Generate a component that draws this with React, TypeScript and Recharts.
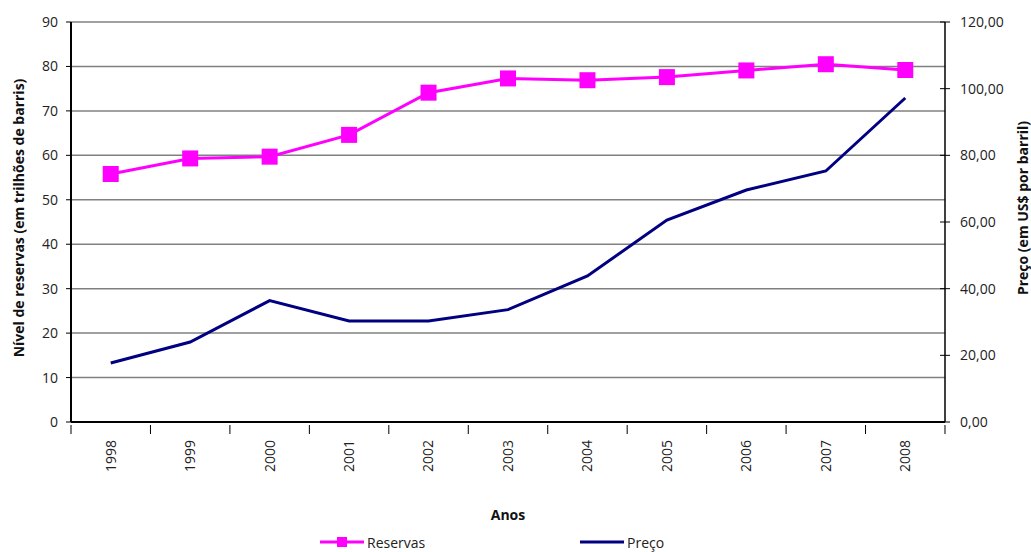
import { LineChart, Line, XAxis, YAxis, CartesianGrid, Legend } from 'recharts';

const anos = ['1998', '1999', '2000', '2001', '2002', '2003', '2004', '2005', '2006', '2007', '2008'];
const reservas = [55.8, 59.3, 59.7, 64.6, 74.1, 77.3, 76.9, 77.6, 79.1, 80.5, 79.2];
const preco = [17.7, 24.0, 36.4, 30.3, 30.3, 33.7, 43.8, 60.6, 69.6, 75.3, 97.2];
const leftTicks = [0, 10, 20, 30, 40, 50, 60, 70, 80, 90];
const rightTicks = [0, 20, 40, 60, 80, 100, 120];

const data = anos.map((ano, i) => ({ ano, reservas: reservas[i], preco: preco[i] }));

const W = 1031;
const H = 552;
const LEFT_W = 71;
const RIGHT_W = 86;
const BAND = (W - LEFT_W - RIGHT_W) / anos.length;
const FONT = '"Open Sans", sans-serif';
const TXT = '#222';

const fmtPreco = (v: number) => v.toFixed(2).replace('.', ',');

// square marker like the Excel original
const SquareDot = (props: any) => {
  const { cx, cy } = props;
  if (cx == null || cy == null) return null;
  return <rect x={cx - 8} y={cy - 8} width={16} height={16} fill="#ff00ff" />;
};

const YearTick = (props: any) => {
  const { x, y, payload, index } = props;
  const last = index === anos.length - 1;
  return (
    <g transform={`translate(${x},${y})`}>
      <line x1={-BAND / 2} x2={-BAND / 2} y1={-5} y2={4} stroke="#000" />
      {last && <line x1={BAND / 2} x2={BAND / 2} y1={-5} y2={4} stroke="#000" />}
      <text
        transform="rotate(-90)"
        x={-10}
        y={0}
        dy="0.35em"
        textAnchor="end"
        fontSize={14}
        fontFamily={FONT}
        fill={TXT}
      >
        {payload.value}
      </text>
    </g>
  );
};

const RightTick = (props: any) => {
  const { x, y, payload } = props;
  return (
    <g>
      <line x1={W - RIGHT_W - 5} x2={W - RIGHT_W + 5} y1={y} y2={y} stroke="#000" />
      <text x={x + 7} y={y} dy="0.35em" textAnchor="start" fontSize={14} fontFamily={FONT} fill={TXT}>
        {fmtPreco(payload.value)}
      </text>
    </g>
  );
};

const LegendBox = () => (
  <div style={{ position: 'relative', height: 20, fontFamily: FONT, fontSize: 14, color: TXT }}>
    <div style={{ position: 'absolute', left: 318, top: 0, display: 'flex', alignItems: 'center' }}>
      <svg width={48} height={20}>
        <line x1={2} x2={46} y1={10} y2={10} stroke="#ff00ff" strokeWidth={3} />
        <rect x={19} y={5} width={10} height={10} fill="#ff00ff" />
      </svg>
      <span style={{ marginLeft: 1 }}>Reservas</span>
    </div>
    <div style={{ position: 'absolute', left: 578, top: 0, display: 'flex', alignItems: 'center' }}>
      <svg width={48} height={20}>
        <line x1={2} x2={46} y1={10} y2={10} stroke="#000080" strokeWidth={3} />
      </svg>
      <span style={{ marginLeft: 1 }}>Preço</span>
    </div>
  </div>
);

export default function App() {
  return (
    <div style={{ position: 'absolute', left: 0, top: 0, width: W, height: H, background: '#fff' }}>
      <LineChart width={W} height={H} data={data} margin={{ top: 22, right: 0, left: 0, bottom: 0 }}>
        <CartesianGrid yAxisId="left" vertical={false} stroke="#808080" strokeWidth={1.5} />
        <XAxis
          dataKey="ano"
          height={110}
          padding={{ left: BAND / 2, right: BAND / 2 }}
          tick={<YearTick />}
          tickLine={false}
          axisLine={{ stroke: '#000', strokeWidth: 2 }}
          interval={0}
          label={{
            value: 'Anos',
            position: 'insideBottom',
            offset: 12,
            fontSize: 14,
            fontWeight: 'bold',
            fontFamily: FONT,
            fill: '#111',
          }}
        />
        <YAxis
          yAxisId="left"
          width={LEFT_W}
          domain={[0, 90]}
          ticks={leftTicks}
          interval={0}
          tickSize={5}
          tickMargin={8}
          tickLine={{ stroke: '#000' }}
          axisLine={{ stroke: '#000', strokeWidth: 2 }}
          tick={{ fontSize: 14, fontFamily: FONT, fill: TXT }}
          label={{
            content: (p: any) => {
              const vb = p.viewBox;
              const cx = 18;
              const cy = vb.y + vb.height / 2 - 4;
              return (
                <text
                  x={cx}
                  y={cy}
                  transform={`rotate(-90 ${cx} ${cy})`}
                  textAnchor="middle"
                  dominantBaseline="central"
                  fontSize={14}
                  fontWeight="bold"
                  fontFamily={FONT}
                  fill="#111"
                >
                  Nível de reservas (em trilhões de barris)
                </text>
              );
            },
          }}
        />
        <YAxis
          yAxisId="right"
          orientation="right"
          width={RIGHT_W}
          domain={[0, 120]}
          ticks={rightTicks}
          interval={0}
          tickLine={false}
          axisLine={{ stroke: '#000', strokeWidth: 1.5 }}
          tick={<RightTick />}
          label={{
            content: (p: any) => {
              const vb = p.viewBox;
              const cx = 1022;
              const cy = vb.y + vb.height / 2 - 14;
              return (
                <text
                  x={cx}
                  y={cy}
                  transform={`rotate(-90 ${cx} ${cy})`}
                  textAnchor="middle"
                  dominantBaseline="central"
                  fontSize={14}
                  fontWeight="bold"
                  fontFamily={FONT}
                  fill="#111"
                >
                  Preço (em US$ por barril)
                </text>
              );
            },
          }}
        />
        <Legend verticalAlign="bottom" height={20} content={<LegendBox />} />
        <Line
          yAxisId="left"
          type="linear"
          dataKey="reservas"
          name="Reservas"
          stroke="#ff00ff"
          strokeWidth={3}
          dot={<SquareDot />}
          activeDot={false}
          isAnimationActive={false}
        />
        <Line
          yAxisId="right"
          type="linear"
          dataKey="preco"
          name="Preço"
          stroke="#000080"
          strokeWidth={3}
          dot={false}
          activeDot={false}
          isAnimationActive={false}
        />
      </LineChart>
    </div>
  );
}
